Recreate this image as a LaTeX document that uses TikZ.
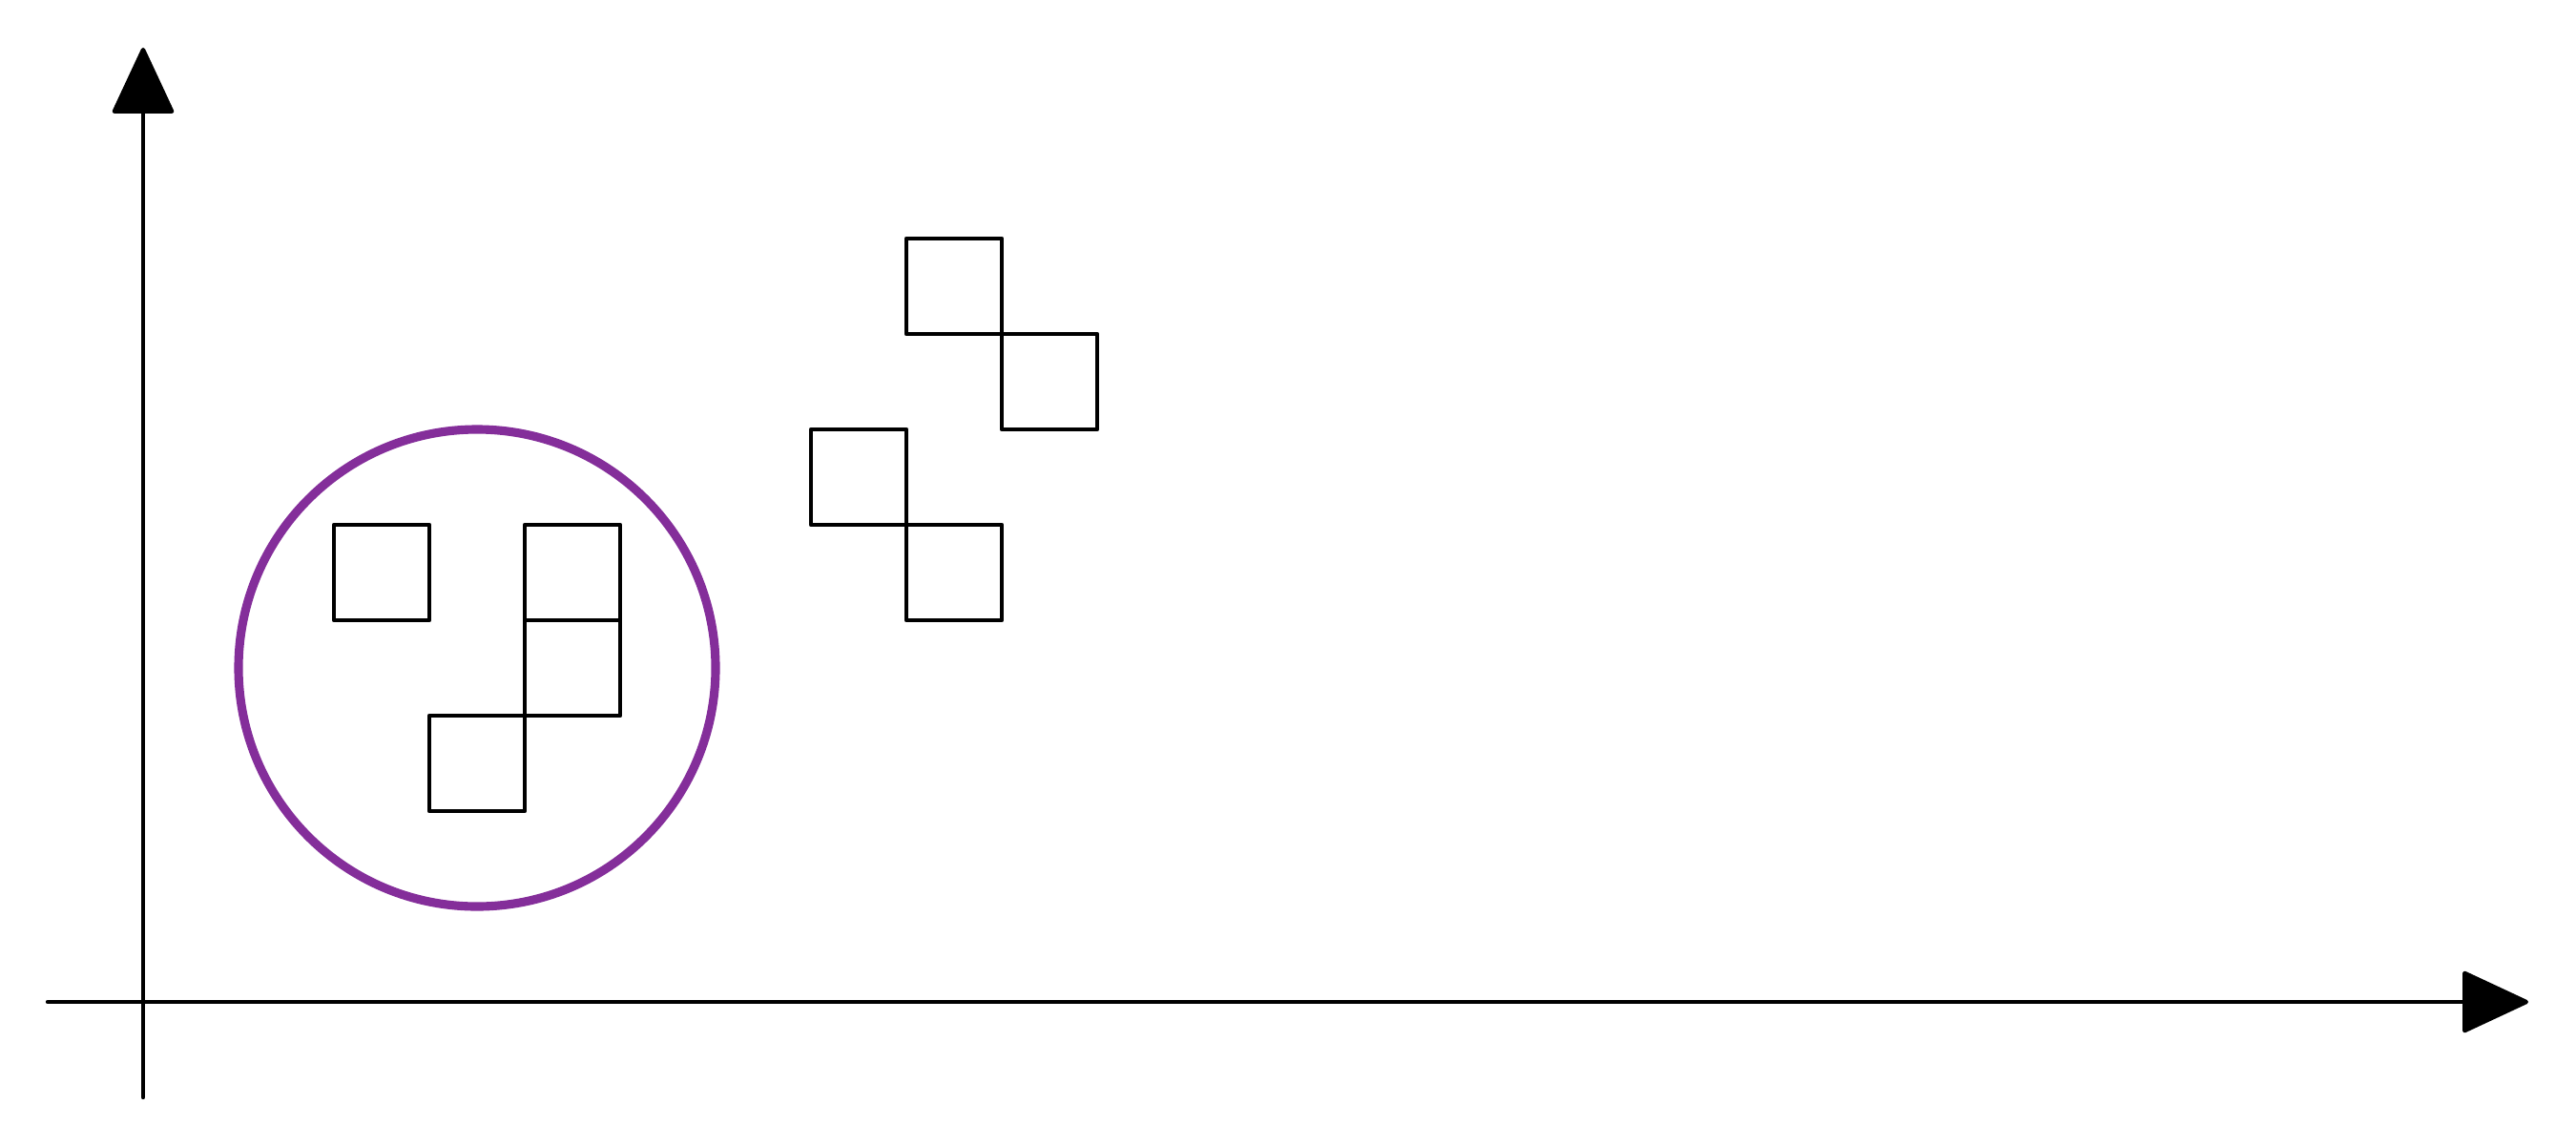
\documentclass[tikz,border=0pt]{standalone}
\usepackage{tikz}
\usepackage{xcolor}
\usetikzlibrary{arrows.meta,positioning}
\definecolor{cP}{RGB}{132,46,154}
\tikzset{
  axis/.style={line width=1.25pt,line cap=round,
               -{Triangle[length=7.2mm,width=6.6mm,round]}},
  cell/.style={line width=1.25pt,line join=round,draw=black},
  ring/.style={line width=2.6pt,draw=cP},
}
\begin{document}
\begin{tikzpicture}
  \useasboundingbox (-1.5,-1.5) rectangle (25.5,10.5);
  \coordinate (O) at (0,0);
  \coordinate (xs) at (-1,0);
  \coordinate (xe) at (25,0);
  \coordinate (ys) at (0,-1);
  \coordinate (ye) at (0,10);
  \draw[axis] (xs) -- (xe);
  \draw[axis] (ys) -- (ye);
  % cluster inside the ring
  \foreach \x/\y in {2/4,4/4,4/3,3/2}{
     \draw[cell] (\x,\y) rectangle ++(1,1);}
  \node[ring,circle,minimum size=5cm,inner sep=0pt] (clu) at (3.5,3.5){};
  % second group
  \foreach \x/\y in {8/7,9/6,7/5,8/4}{
     \draw[cell] (\x,\y) rectangle ++(1,1);}
\end{tikzpicture}
\end{document}
